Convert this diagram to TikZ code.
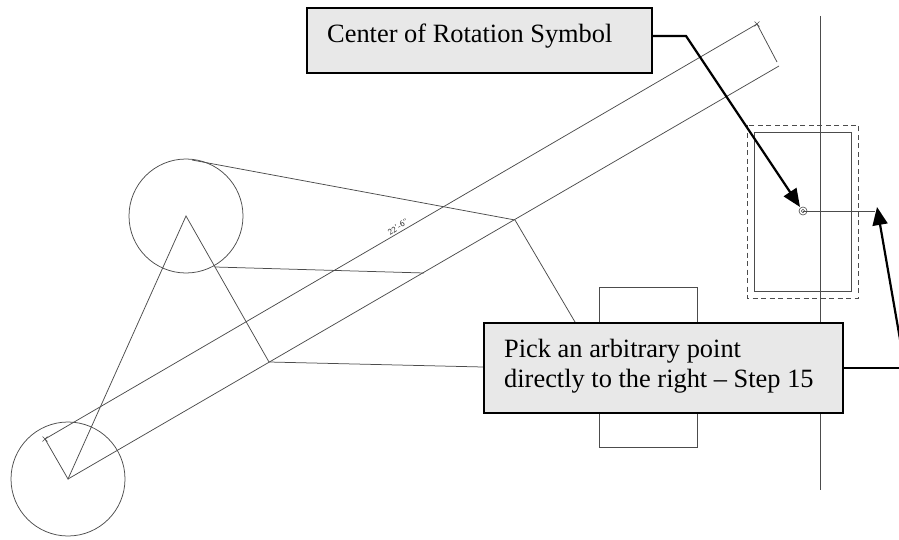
\documentclass[tikz,border=0pt]{standalone}
\usepackage{fontspec}
\setmainfont{Liberation Serif}
\usetikzlibrary{arrows.meta,calc}
\tikzset{
  x=1pt,y=-1pt,
  cad/.style={draw=black!70,line width=0.75pt},
  callout/.style={draw=black,line width=2pt,fill=black!9,inner sep=0pt,minimum height=0pt},
  lead/.style={draw=black,line width=2.2pt},
  leadarrow/.style={lead,-{Triangle[length=18pt,width=15pt]}},
  lbl/.style={anchor=base west,inner sep=0pt,font=\fontsize{26.4}{30}\selectfont,align=left,text=black}
}
\begin{document}
\begin{tikzpicture}
\useasboundingbox (0,0) rectangle (899,540);
\begin{scope}
\clip (0,0) rectangle (899,540);
% geometry points
\coordinate (A) at (68,479);
\coordinate (B) at (186,216);
\coordinate (C) at (269,362);
\coordinate (T1) at (45,439);
\coordinate (T2) at (757,24);
\coordinate (T3) at (777,62);
\coordinate (L2) at (779,66);
\coordinate (D) at (515,220);
\coordinate (E) at (424,273);
\coordinate (F) at (215,267);
\coordinate (G) at (192,160);
\coordinate (H) at (575,322);
\coordinate (I) at (483,367);
\coordinate (R) at (803,211);
\coordinate (P) at (875,211);
\coordinate (V1) at (820,16);
\coordinate (V2) at (820,490);
% drawing
\draw[cad] (A) circle[radius=57];
\draw[cad] (B) circle[radius=57];
\draw[cad] (T1) -- (T2);
\draw[cad] (A) -- (L2);
\draw[cad] (T1) -- (A) -- (B) -- (C);
\draw[cad] (T2) -- (T3);
\draw[cad] (G) -- (D) -- (H);
\draw[cad] (F) -- (E);
\draw[cad] (C) -- (I);
\draw[cad] (599,287) rectangle (697,447);
\draw[cad] (V1) -- (V2);
\draw[cad] (754,132) rectangle (851,291);
\draw[cad,dash pattern=on 5pt off 3.5pt] (747,125) rectangle (858,298);
\draw[cad] (R) -- (P);
\draw[cad,line width=0.6pt] (R) circle[radius=4];
\draw[cad,line width=0.6pt] (R) circle[radius=1.8];
\draw[cad,line width=0.5pt] ($(T1)+(-2.5,-2.5)$) -- ($(T1)+(2.5,2.5)$) ($(T1)+(-2.5,2.5)$) -- ($(T1)+(2.5,-2.5)$);
\draw[cad,line width=0.5pt] ($(T2)+(-2.5,-2.5)$) -- ($(T2)+(2.5,2.5)$) ($(T2)+(-2.5,2.5)$) -- ($(T2)+(2.5,-2.5)$);
\node[rotate=33,inner sep=0pt,text=black!85,font=\sffamily\fontsize{8.5}{9}\selectfont] (dim) at (398,227) {22'-6"};
% callouts
\node[callout,minimum width=345pt,minimum height=65pt,anchor=north west] (box1) at (306,7) {};
\node[lbl] (t1) at (327,43) {Center of Rotation Symbol};
\node[callout,minimum width=359pt,minimum height=90pt,anchor=north west] (box2) at (483,322) {};
\node[lbl,anchor=north west] (t2) at (504,339) {Pick an arbitrary point\\directly to the right – Step 15};
\coordinate (b1e) at (686,36);
\coordinate (b2e) at (905,368);
\coordinate (tip1) at (800,207);
\coordinate (tip2) at (877,207);
\draw[leadarrow] (box1.east |- b1e) -- (b1e) -- (tip1);
\draw[lead] (box2.east |- b2e) -- (b2e);
\draw[leadarrow] (b2e) -- (tip2);
\end{scope}
\end{tikzpicture}
\end{document}
